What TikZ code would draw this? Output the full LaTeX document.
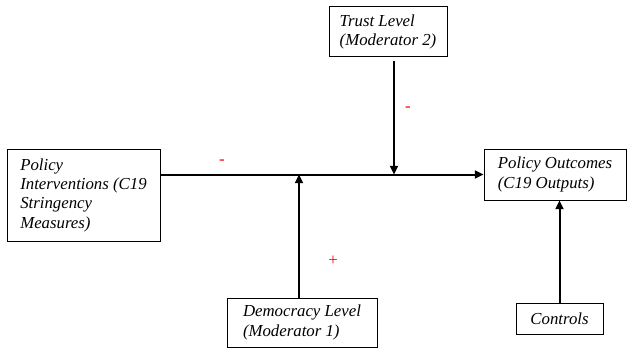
\documentclass[tikz,border=0pt]{standalone}
\usepackage{fontspec}
\setmainfont{Liberation Serif}
\usetikzlibrary{positioning, arrows.meta}
\newcommand{\signcolor}{red}

\begin{document}
\begin{tikzpicture}[
      % GLOBAL CFG
      x=0.75pt, y=-0.75pt,
      font=\itshape\fontsize{12.6}{14.5}\selectfont,
      >={Triangle[length=6.5pt,width=6pt]},
      % Styles
      varbox/.style={% For variables
        rectangle,
        draw,
        line width=0.75pt,
        inner sep=0pt,
        align=left
      },
      sign/.style={% For effect signs
        text=\signcolor,
        font=\upshape\fontsize{12.6}{14.5}\selectfont,
        inner sep=0pt
      },
      arrowfunction/.style={% Arrows for effects
        line width=1.5pt,
        ->,
      }
      ]

      \useasboundingbox (0,0) rectangle (627,349);

      % Draw the boxes:
      \node [varbox, minimum width=114.75pt, minimum height=69pt] (policy) at (83.5,195)
        {Policy\\Interventions (C19\\Stringency\\Measures)} ;
      \node [varbox, minimum width=106.5pt, minimum height=38.25pt] (outcomes) at (555,174.5)
        {Policy Outcomes\\(C19 Outputs)} ;
      \node [varbox, minimum width=88.5pt, minimum height=37.5pt] (trust) at (388,32)
        {Trust Level\\(Moderator 2)} ;
      \node [varbox, minimum width=112.5pt, minimum height=36.75pt] (democracy) at (302,322.5)
        {Democracy Level\\(Moderator 1)} ;
      \node [varbox, minimum width=65.25pt, minimum height=23.25pt] (controls) at (559.5,318.5)
        {Controls} ;

      % Signs
      \node [sign] (sign1) at (222,162) {-} ;
      \node [sign] (sign2) at (408,109) {-} ;
      \node [sign] (sign3) at (333,261) {+} ;

      % Arrows
      \draw [arrowfunction] (outcomes.west -| policy.east) -- (outcomes.west);
      \draw [arrowfunction] ([xshift=4.5pt,yshift=-3pt]trust.south) -- ([xshift=4.5pt]trust.south |- outcomes.west);
      \draw [arrowfunction] ([xshift=-2.25pt]democracy.north) -- ([xshift=-2.25pt]democracy.north |- outcomes.west);
      \draw [arrowfunction] (controls.north) -- (controls.north |- outcomes.south);
    \end{tikzpicture}
\end{document}
